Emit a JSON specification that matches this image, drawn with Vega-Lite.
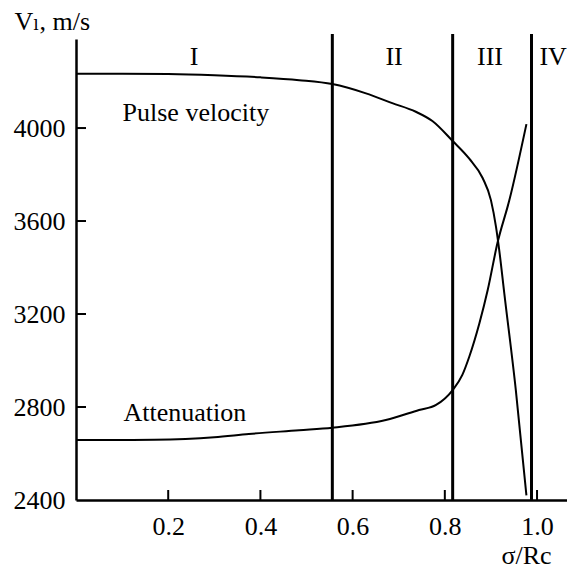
{
  "$schema": "https://vega.github.io/schema/vega-lite/v6.json",
  "width": 491,
  "height": 461,
  "autosize": {"type": "none"},
  "padding": {"left": 76, "top": 39, "right": 0, "bottom": 73},
  "background": "white",
  "config": {
    "view": {"stroke": null},
    "font": "'Liberation Serif', 'DejaVu Serif', 'Times New Roman', serif",
    "axis": {
      "grid": false,
      "domainColor": "black",
      "domainWidth": 2.5,
      "ticks": false,
      "labelFont": "'Liberation Serif', 'DejaVu Serif', 'Times New Roman', serif",
      "labelFontSize": 26,
      "labelColor": "black",
      "titleFont": "'Liberation Serif', 'DejaVu Serif', 'Times New Roman', serif",
      "titleFontSize": 26,
      "titleFontWeight": "normal",
      "titleColor": "black"
    },
    "text": {"font": "'Liberation Serif', 'DejaVu Serif', 'Times New Roman', serif", "fontSize": 26, "color": "black"}
  },
  "datasets": {
    "curves": [
      {"series": "Pulse velocity", "x": 0.0, "v": 4233},
      {"series": "Pulse velocity", "x": 0.1, "v": 4233},
      {"series": "Pulse velocity", "x": 0.2, "v": 4232},
      {"series": "Pulse velocity", "x": 0.3, "v": 4227},
      {"series": "Pulse velocity", "x": 0.4, "v": 4218},
      {"series": "Pulse velocity", "x": 0.484, "v": 4206},
      {"series": "Pulse velocity", "x": 0.556, "v": 4189},
      {"series": "Pulse velocity", "x": 0.629, "v": 4149},
      {"series": "Pulse velocity", "x": 0.686, "v": 4107},
      {"series": "Pulse velocity", "x": 0.737, "v": 4070},
      {"series": "Pulse velocity", "x": 0.773, "v": 4030},
      {"series": "Pulse velocity", "x": 0.817, "v": 3944},
      {"series": "Pulse velocity", "x": 0.853, "v": 3868},
      {"series": "Pulse velocity", "x": 0.882, "v": 3785},
      {"series": "Pulse velocity", "x": 0.9, "v": 3690},
      {"series": "Pulse velocity", "x": 0.911, "v": 3575},
      {"series": "Pulse velocity", "x": 0.918, "v": 3475},
      {"series": "Pulse velocity", "x": 0.929, "v": 3289},
      {"series": "Pulse velocity", "x": 0.954, "v": 2873},
      {"series": "Pulse velocity", "x": 0.977, "v": 2420},
      {"series": "Attenuation", "x": 0.0, "v": 2658},
      {"series": "Attenuation", "x": 0.1, "v": 2658},
      {"series": "Attenuation", "x": 0.17, "v": 2659},
      {"series": "Attenuation", "x": 0.3, "v": 2670},
      {"series": "Attenuation", "x": 0.375, "v": 2684},
      {"series": "Attenuation", "x": 0.484, "v": 2700},
      {"series": "Attenuation", "x": 0.556, "v": 2711},
      {"series": "Attenuation", "x": 0.672, "v": 2744},
      {"series": "Attenuation", "x": 0.744, "v": 2787},
      {"series": "Attenuation", "x": 0.781, "v": 2809},
      {"series": "Attenuation", "x": 0.817, "v": 2873},
      {"series": "Attenuation", "x": 0.838, "v": 2938},
      {"series": "Attenuation", "x": 0.853, "v": 3016},
      {"series": "Attenuation", "x": 0.875, "v": 3160},
      {"series": "Attenuation", "x": 0.893, "v": 3303},
      {"series": "Attenuation", "x": 0.914, "v": 3504},
      {"series": "Attenuation", "x": 0.94, "v": 3690},
      {"series": "Attenuation", "x": 0.977, "v": 4017}
    ],
    "bounds": [
      {"b": 0.556},
      {"b": 0.817},
      {"b": 0.988}
    ],
    "xTicks": [
      {"t": 0.2}, {"t": 0.4}, {"t": 0.6}, {"t": 0.8}, {"t": 1.0}
    ],
    "yTicks": [
      {"t": 2800}, {"t": 3200}, {"t": 3600}, {"t": 4000}
    ],
    "regions": [
      {"label": "I", "x": 0.256, "v": 4305},
      {"label": "II", "x": 0.69, "v": 4305},
      {"label": "III", "x": 0.898, "v": 4305},
      {"label": "IV", "x": 1.035, "v": 4305}
    ],
    "curveLabels": [
      {"label": "Pulse velocity", "x": 0.26, "v": 4066},
      {"label": "Attenuation", "x": 0.236, "v": 2773}
    ]
  },
  "layer": [
    {
      "data": {"name": "curves"},
      "mark": {"type": "line", "color": "black", "strokeWidth": 2, "interpolate": "monotone"},
      "encoding": {
        "x": {
          "field": "x", "type": "quantitative",
          "scale": {"domain": [0, 1.065], "nice": false, "zero": false},
          "axis": {
            "values": [0.2, 0.4, 0.6, 0.8, 1.0],
            "format": ".1f",
            "labelPadding": 13,
            "title": "σ/Rc",
            "titleAnchor": null,
            "titleAlign": "left",
            "titleBaseline": "alphabetic",
            "titleX": 425,
            "titleY": 63
          }
        },
        "y": {
          "field": "v", "type": "quantitative",
          "scale": {"domain": [2400, 4383], "nice": false, "zero": false},
          "axis": {
            "values": [2400, 2800, 3200, 3600, 4000],
            "format": "d",
            "labelPadding": 11,
            "title": "Vₗ, m/s",
            "titleAngle": 0,
            "titleAlign": "left",
            "titleBaseline": "alphabetic",
            "titleX": -62,
            "titleY": -10
          }
        },
        "detail": {"field": "series"}
      }
    },
    {
      "data": {"name": "bounds"},
      "mark": {"type": "rule", "color": "black", "strokeWidth": 3},
      "encoding": {
        "x": {"field": "b", "type": "quantitative"},
        "y": {"datum": 2400},
        "y2": {"datum": 4404}
      }
    },
    {
      "data": {"name": "xTicks"},
      "mark": {"type": "rule", "color": "black", "strokeWidth": 2},
      "encoding": {
        "x": {"field": "t", "type": "quantitative"},
        "y": {"datum": 2400},
        "y2": {"datum": 2443}
      }
    },
    {
      "data": {"name": "yTicks"},
      "mark": {"type": "rule", "color": "black", "strokeWidth": 2},
      "encoding": {
        "y": {"field": "t", "type": "quantitative"},
        "x": {"datum": 0},
        "x2": {"datum": 0.0217}
      }
    },
    {
      "data": {"name": "regions"},
      "mark": {"type": "text", "align": "center", "baseline": "middle"},
      "encoding": {
        "x": {"field": "x", "type": "quantitative"},
        "y": {"field": "v", "type": "quantitative"},
        "text": {"field": "label"}
      }
    },
    {
      "data": {"name": "curveLabels"},
      "mark": {"type": "text", "align": "center", "baseline": "middle"},
      "encoding": {
        "x": {"field": "x", "type": "quantitative"},
        "y": {"field": "v", "type": "quantitative"},
        "text": {"field": "label"}
      }
    }
  ]
}
